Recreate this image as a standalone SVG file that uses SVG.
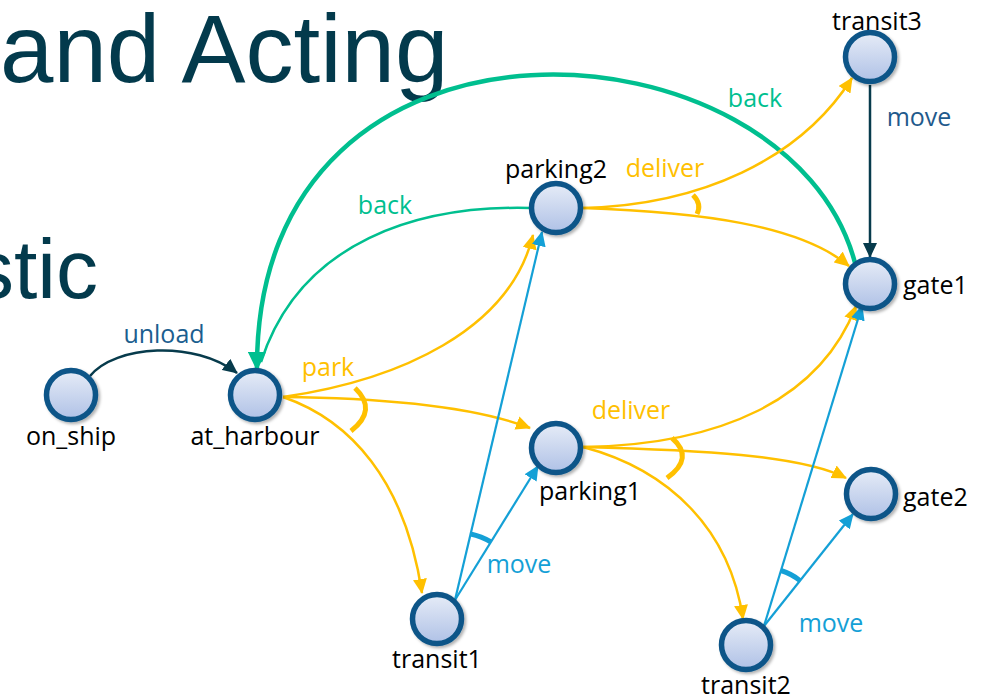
<svg xmlns="http://www.w3.org/2000/svg" width="999" height="699" viewBox="0 0 999 699">
  <defs>
    <linearGradient id="nodeFill" x1="0" y1="0" x2="0" y2="1">
      <stop offset="0" stop-color="#e6ecf7"/>
      <stop offset="1" stop-color="#afc1e6"/>
    </linearGradient>
    <filter id="shadow" x="-30%" y="-30%" width="160%" height="160%">
      <feDropShadow dx="2" dy="2" stdDeviation="1.5" flood-color="#000" flood-opacity="0.3"/>
    </filter>
    <marker id="ahDark" markerUnits="userSpaceOnUse" markerWidth="16" markerHeight="14" refX="14" refY="7" orient="auto">
      <path d="M0,0 L15,7 L0,14 z" fill="#073b4c"/>
    </marker>
    <marker id="ahYellow" markerUnits="userSpaceOnUse" markerWidth="16" markerHeight="14" refX="14" refY="7" orient="auto">
      <path d="M0,0 L15,7 L0,14 z" fill="#ffc000"/>
    </marker>
    <marker id="ahCyan" markerUnits="userSpaceOnUse" markerWidth="16" markerHeight="14" refX="14" refY="7" orient="auto">
      <path d="M0,0 L15,7 L0,14 z" fill="#14a0d6"/>
    </marker>
    <marker id="ahGreen" markerUnits="userSpaceOnUse" markerWidth="20" markerHeight="18" refX="17" refY="9" orient="auto">
      <path d="M0,0 L19,9 L0,18 z" fill="#00bf8f"/>
    </marker>
  </defs>
  <style>
    .title { font-family: "Liberation Sans", Arial, sans-serif; fill: #033a4c; }
    .node circle { fill: url(#nodeFill); stroke: #0c5588; stroke-width: 5.5; filter: url(#shadow); }
    .node text, .lbl { font-family: "Open Sans", "Noto Sans", sans-serif; font-size: 25px; }
    .node text { fill: #000; }
    .edge { fill: none; }
    .yellow { stroke: #ffc000; stroke-width: 2.5; }
    .cyan { stroke: #14a0d6; stroke-width: 2.2; }
    .dark { stroke: #073b4c; stroke-width: 2.5; }
    .green { stroke: #00bf8f; }
    .mark { fill: none; stroke-width: 5; stroke-linecap: butt; }
  </style>

  <rect width="999" height="699" fill="#fff"/>

  <!-- title fragments -->
  <text class="title" x="0" y="82" font-size="96">and Acting</text>
  <text class="title" x="98" y="298" font-size="84" text-anchor="end">stic</text>

  <g id="connectors">
    <!-- unload -->
    <path class="edge dark" d="M90,376 C115,345 195,340 237,373" marker-end="url(#ahDark)"/>
    <!-- back (thick) gate1 -> at_harbour -->
    <path class="edge green" stroke-width="4.5" d="M855,263 C790,15 255,-25 257,369" marker-end="url(#ahGreen)"/>
    <!-- back (thin) parking2 -> at_harbour -->
    <path class="edge green" stroke-width="2.5" d="M531,208 C420,205 300,240 261,362"/>
    <!-- park -->
    <path class="edge yellow" d="M283,397 C400,380 510,330 533,235" marker-end="url(#ahYellow)"/>
    <path class="edge yellow" d="M283,397 C380,398 470,405 530,428" marker-end="url(#ahYellow)"/>
    <path class="edge yellow" d="M283,397 C350,420 405,480 422,593" marker-end="url(#ahYellow)"/>
    <path class="mark" stroke="#ffc000" d="M355,388 Q378,410 351,431"/>
    <!-- deliver from parking2 -->
    <path class="edge yellow" d="M583,208 C700,205 800,160 852,78" marker-end="url(#ahYellow)"/>
    <path class="edge yellow" d="M583,208 C700,212 800,225 849,266" marker-end="url(#ahYellow)"/>
    <path class="mark" stroke="#ffc000" d="M693,195 Q702,204 697,214"/>
    <!-- deliver from parking1 -->
    <path class="edge yellow" d="M583,447 C720,445 820,400 856,306" marker-end="url(#ahYellow)"/>
    <path class="edge yellow" d="M583,447 C700,450 800,455 846,478" marker-end="url(#ahYellow)"/>
    <path class="edge yellow" d="M583,447 C670,470 730,530 743,619" marker-end="url(#ahYellow)"/>
    <path class="mark" stroke="#ffc000" d="M672,438 Q695,458 667,478"/>
    <!-- move from transit1 -->
    <path class="edge cyan" d="M455,600 L542,232" marker-end="url(#ahCyan)"/>
    <path class="edge cyan" d="M455,600 L538,466" marker-end="url(#ahCyan)"/>
    <path class="mark" stroke="#14a0d6" stroke-width="4" d="M470.6,534 A68,68 0 0 1 491,542"/>
    <!-- move from transit2 -->
    <path class="edge cyan" d="M764,626 L862,306" marker-end="url(#ahCyan)"/>
    <path class="edge cyan" d="M764,626 L853,514" marker-end="url(#ahCyan)"/>
    <path class="mark" stroke="#14a0d6" stroke-width="4" d="M781,570.5 A58,58 0 0 1 800,580.6"/>
    <!-- move from transit3 -->
    <path class="edge dark" d="M870,85 L870,257" marker-end="url(#ahDark)"/>

    <!-- connector labels -->
    <text class="lbl" x="164" y="343" text-anchor="middle" fill="#1b5e8f">unload</text>
    <text class="lbl" x="755" y="107" text-anchor="middle" fill="#00bf8f">back</text>
    <text class="lbl" x="385" y="214" text-anchor="middle" fill="#00bf8f">back</text>
    <text class="lbl" x="328" y="376" text-anchor="middle" fill="#ffc000">park</text>
    <text class="lbl" x="665" y="177" text-anchor="middle" fill="#ffc000">deliver</text>
    <text class="lbl" x="631" y="419" text-anchor="middle" fill="#ffc000">deliver</text>
    <text class="lbl" x="919" y="126" text-anchor="middle" fill="#1f5a8c">move</text>
    <text class="lbl" x="519" y="573" text-anchor="middle" fill="#14a0d6">move</text>
    <text class="lbl" x="831" y="632" text-anchor="middle" fill="#14a0d6">move</text>
  </g>

  <g id="on_ship" class="node">
    <circle cx="71" cy="395" r="24.5"/>
    <text x="71" y="445" text-anchor="middle">on_ship</text>
  </g>
  <g id="at_harbour" class="node">
    <circle cx="255" cy="395" r="24.5"/>
    <text x="255" y="445" text-anchor="middle">at_harbour</text>
  </g>
  <g id="parking2" class="node">
    <circle cx="556" cy="208" r="24.5"/>
    <text x="556" y="178" text-anchor="middle">parking2</text>
  </g>
  <g id="parking1" class="node">
    <circle cx="556" cy="448" r="24.5"/>
    <text x="590" y="500" text-anchor="middle">parking1</text>
  </g>
  <g id="transit1" class="node">
    <circle cx="437" cy="619" r="24.5"/>
    <text x="437" y="668" text-anchor="middle">transit1</text>
  </g>
  <g id="transit2" class="node">
    <circle cx="746" cy="645" r="24.5"/>
    <text x="746" y="694" text-anchor="middle">transit2</text>
  </g>
  <g id="transit3" class="node">
    <circle cx="870" cy="57" r="24.5"/>
    <text x="877" y="30" text-anchor="middle">transit3</text>
  </g>
  <g id="gate1" class="node">
    <circle cx="870" cy="284" r="24.5"/>
    <text x="903" y="294">gate1</text>
  </g>
  <g id="gate2" class="node">
    <circle cx="871" cy="494" r="24.5"/>
    <text x="903" y="506">gate2</text>
  </g>
</svg>
